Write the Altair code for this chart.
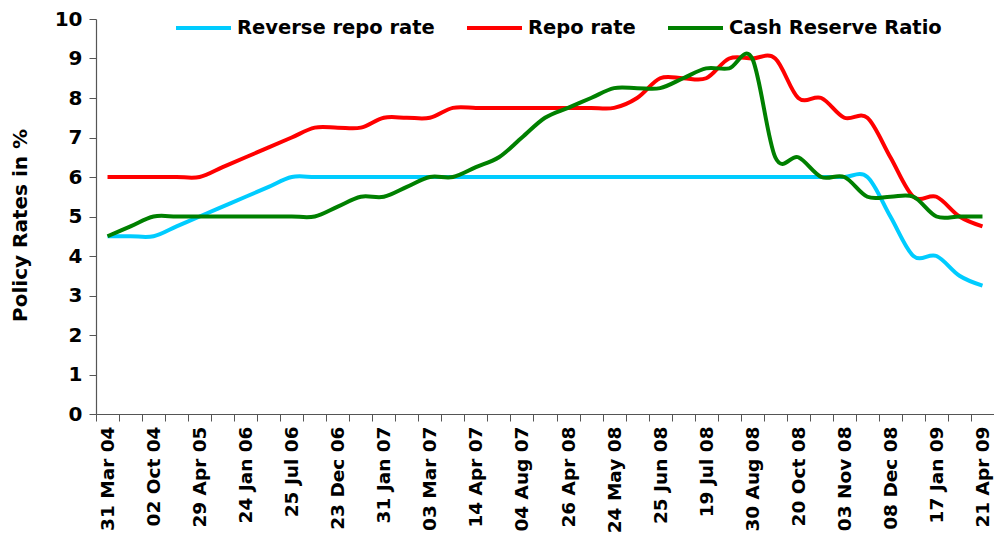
import json
import altair as alt
import pandas as pd

# ---- data ----
date_labels = ["31 Mar 04", "02 Oct 04", "29 Apr 05", "24 Jan 06", "25 Jul 06",
               "23 Dec 06", "31 Jan 07", "03 Mar 07", "14 Apr 07", "04 Aug 07",
               "26 Apr 08", "24 May 08", "25 Jun 08", "19 Jul 08", "30 Aug 08",
               "20 Oct 08", "03 Nov 08", "08 Dec 08", "17 Jan 09", "21 Apr 09"]

series_names = ["Reverse repo rate", "Repo rate", "Cash Reserve Ratio"]
series_colors = ["#00CCFF", "#FF0000", "#008000"]

reverse_repo = [4.5, 4.5, 4.5, 4.75, 5.0, 5.25, 5.5, 5.75, 6.0,
                6.0, 6.0, 6.0, 6.0, 6.0, 6.0, 6.0, 6.0, 6.0, 6.0,
                6.0, 6.0, 6.0, 6.0, 6.0, 6.0, 6.0, 6.0, 6.0, 6.0,
                6.0, 6.0, 6.0, 6.0, 6.0,
                5.0, 4.0, 4.0, 3.5, 3.25]

repo = [6.0, 6.0, 6.0, 6.0, 6.0, 6.25, 6.5, 6.75, 7.0,
        7.25, 7.25, 7.25, 7.5, 7.5, 7.5,
        7.75, 7.75, 7.75, 7.75, 7.75, 7.75, 7.75, 7.75,
        8.0, 8.5, 8.5, 8.5, 9.0, 9.0, 9.0,
        8.0, 8.0, 7.5, 7.5, 6.5, 5.5, 5.5, 5.0, 4.75]

crr = [4.5, 4.75, 5.0, 5.0, 5.0, 5.0, 5.0, 5.0, 5.0, 5.0,
       5.25, 5.5, 5.5, 5.75, 6.0, 6.0, 6.25, 6.5, 7.0, 7.5,
       7.75, 8.0, 8.25, 8.25, 8.25, 8.5, 8.75, 8.75, 9.0,
       6.5, 6.5, 6.0, 6.0, 5.5, 5.5, 5.5, 5.0, 5.0, 5.0]

rows = []
for name, vals in zip(series_names, [reverse_repo, repo, crr]):
    for i, v in enumerate(vals):
        rows.append({"idx": i, "rate": v, "series": name})
df = pd.DataFrame(rows)

n = len(repo)
W, H = 898, 395
half_cat = W / n / 2.0
FONT = "DejaVu Sans"

tick_values = [k - 0.5 for k in range(n + 1)]
labels_js = json.dumps(date_labels)
label_expr = (f"(datum.value + 0.5) % 2 == 0 && datum.value < {n - 1} "
              f"? {labels_js}[(datum.value + 0.5) / 2] : ''")

chart = alt.Chart(df).mark_line(
    interpolate="cardinal", strokeWidth=4
).encode(
    x=alt.X("idx:Q",
            scale=alt.Scale(domain=[-0.5, n - 0.5], nice=False, zero=False),
            axis=alt.Axis(values=tick_values, labelExpr=label_expr,
                          labelAngle=270, labelAlign="right", labelBaseline="middle",
                          labelOffset=half_cat, labelPadding=5,
                          labelFlush=False, labelOverlap=False,
                          labelFont=FONT, labelFontSize=18.5, labelFontWeight="bold",
                          labelColor="#000000",
                          tickSize=7, tickColor="#555555", domainColor="#555555",
                          tickWidth=1, domainWidth=1.2,
                          grid=False, title=None)),
    y=alt.Y("rate:Q",
            scale=alt.Scale(domain=[0, 10], nice=False),
            axis=alt.Axis(values=list(range(0, 11)), format="d",
                          labelFont=FONT, labelFontSize=20, labelFontWeight="bold",
                          labelColor="#000000", labelPadding=7,
                          tickSize=7, tickColor="#555555", domainColor="#555555",
                          tickWidth=1, domainWidth=1.2,
                          grid=False, title="Policy Rates in %",
                          titleFont=FONT, titleFontSize=20, titleFontWeight="bold",
                          titleColor="#000000", titlePadding=24, titleY=206)),
    color=alt.Color("series:N",
                    sort=series_names,
                    scale=alt.Scale(domain=series_names, range=series_colors),
                    legend=alt.Legend(orient="none", legendX=78, legendY=-20.5,
                                      direction="horizontal", title=None,
                                      symbolType="stroke", symbolSize=3025,
                                      symbolStrokeWidth=4, labelOffset=4,
                                      columnPadding=24,
                                      labelFont=FONT, labelFontSize=19.5,
                                      labelFontWeight="bold", labelColor="#000000",
                                      labelLimit=400)),
    order="idx:Q",
).properties(
    width=W, height=H,
    background="white",
    autosize=alt.AutoSizeParams(type="none"),
    padding={"left": 88, "top": 11, "right": 0, "bottom": 122},
).configure_view(stroke=None)

chart.save("out.html", embed_options={"renderer": "svg", "actions": False})
